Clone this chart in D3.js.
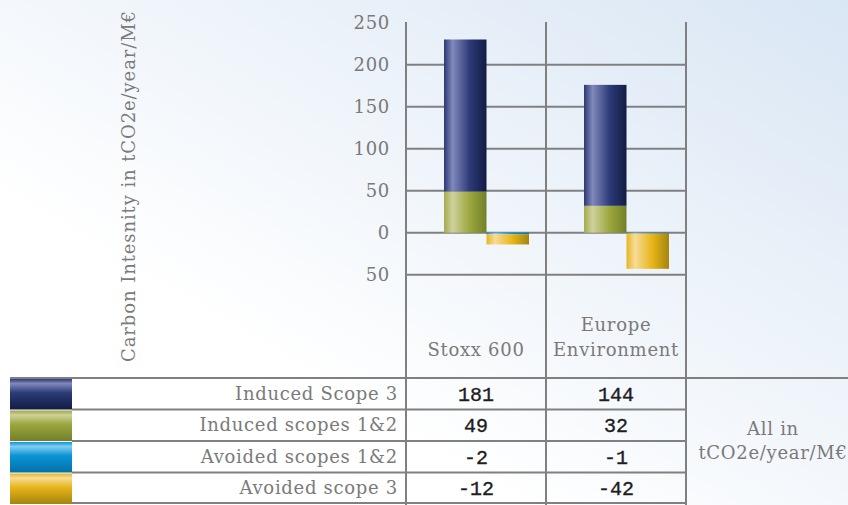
<!DOCTYPE html>
<html>
<head>
<meta charset="utf-8">
<script src="https://cdn.jsdelivr.net/npm/d3@7"></script>
<style>
  body { margin: 0; background: #fff; }
  #chart { display: block; }
  .lbl { font-family: "DejaVu Serif", serif; fill: #7a7a7a; letter-spacing: 0.7px; }
  .num { font-family: "Liberation Mono", monospace; fill: #1e1e1e; stroke: #1e1e1e; stroke-width: 0.35px; }
  .grid line { stroke: #808080; stroke-width: 2; }
</style>
</head>
<body>
<svg id="chart" width="848" height="505"></svg>
<script>
// data
const categories = ["Stoxx 600", "Europe Environment"];
const categoryLines = [["Stoxx 600"], ["Europe", "Environment"]];
const seriesNames = ["Induced Scope 3", "Induced scopes 1&2", "Avoided scopes 1&2", "Avoided scope 3"];
const inducedScope3 = [181, 144];
const inducedScopes12 = [49, 32];
const avoidedScopes12 = [-2, -1];
const avoidedScope3 = [-12, -42];
const tickValues = [-50, 0, 50, 100, 150, 200, 250];
const tickLabels = ["50", "0", "50", "100", "150", "200", "250"];
const yTitle = "Carbon Intesnity in tCO2e/year/M€";
const unitNote = ["All in", "tCO2e/year/M€"];

const W = 848, H = 505;
const svg = d3.select("#chart");
const defs = svg.append("defs");

// background
const bg = defs.append("linearGradient").attr("id", "bg")
  .attr("x1", "0").attr("y1", "1").attr("x2", "1").attr("y2", "0");
bg.append("stop").attr("offset", "0.3").attr("stop-color", "#ffffff");
bg.append("stop").attr("offset", "1").attr("stop-color", "#d9e6f4");
svg.append("rect").attr("width", W).attr("height", H).attr("fill", "url(#bg)");

// bar shading, per series: [left, highlight, mid, right]
const shades = {
  "Induced Scope 3": ["#2b3874", "#8189bb", "#2d3b78", "#121c44"],
  "Induced scopes 1&2": ["#a3ac4c", "#cfd19c", "#9ca73e", "#72802a"],
  "Avoided scopes 1&2": ["#0a8fd0", "#82ccf0", "#0a94d6", "#0670a8"],
  "Avoided scope 3": ["#e6b521", "#f6dc98", "#e9b51a", "#a3850e"]
};
seriesNames.forEach((s, i) => {
  const c = shades[s];
  const g = defs.append("linearGradient").attr("id", "h" + i)
    .attr("x1", 0).attr("x2", 1).attr("y1", 0).attr("y2", 0);
  [[0, c[0]], [0.2, c[1]], [0.6, c[2]], [1, c[3]]].forEach(([o, col]) =>
    g.append("stop").attr("offset", o).attr("stop-color", col));
  const v = defs.append("linearGradient").attr("id", "v" + i)
    .attr("x1", 0).attr("x2", 0).attr("y1", 0).attr("y2", 1);
  [[0, c[2]], [0.15, c[1]], [0.45, c[2]], [1, c[3]]].forEach(([o, col]) =>
    v.append("stop").attr("offset", o).attr("stop-color", col));
});

// scales
const plotLeft = 406, plotRight = 686, plotTop = 22, labelBottom = 378;
const x = d3.scaleBand().domain(categories).range([plotLeft, plotRight]).padding(0);
const inner = d3.scaleBand().domain(["induced", "avoided"])
  .range([38, 123]).padding(0);
const y = d3.scaleLinear().domain([-50, 250]).range([274.7, 22.7]);

// grid
const grid = svg.append("g").attr("class", "grid");
grid.selectAll("line.h").data(tickValues.filter(d => d < 250)).join("line")
  .attr("x1", plotLeft).attr("x2", plotRight)
  .attr("y1", d => y(d)).attr("y2", d => y(d));
const vLines = [plotLeft, ...categories.map(c => x(c) + x.bandwidth())];
grid.selectAll("line.v").data(vLines).join("line")
  .attr("x1", d => d).attr("x2", d => d)
  .attr("y1", plotTop).attr("y2", H);

// y tick labels
const yAxis = d3.axisLeft(y).tickValues(tickValues).tickSize(0).tickPadding(0)
  .tickFormat((d, i) => tickLabels[i]);
const ya = svg.append("g").attr("transform", "translate(390,0)").call(yAxis);
ya.select(".domain").remove();
ya.selectAll("text").attr("class", "lbl").attr("font-size", 18).attr("fill", null)
  .attr("font-family", null);

// y title
svg.append("text").attr("class", "lbl")
  .attr("transform", "translate(135,186) rotate(-90)")
  .attr("text-anchor", "middle").attr("font-size", 18)
  .style("letter-spacing", "0.9px")
  .text(yTitle);

// bars
const stacks = [
  { key: "induced", parts: [[1, inducedScopes12], [0, inducedScope3]] },
  { key: "avoided", parts: [[2, avoidedScopes12], [3, avoidedScope3]] }
];
const bars = [];
categories.forEach((c, ci) => {
  stacks.forEach(st => {
    let base = 0;
    st.parts.forEach(([si, vals]) => {
      const v = vals[ci];
      bars.push({ c, key: st.key, si, y0: base, y1: base + v });
      base += v;
    });
  });
});
svg.append("g").selectAll("rect").data(bars).join("rect")
  .attr("x", d => x(d.c) + inner(d.key))
  .attr("width", inner.bandwidth())
  .attr("y", d => y(Math.max(d.y0, d.y1)))
  .attr("height", d => Math.abs(y(d.y0) - y(d.y1)))
  .attr("fill", d => `url(#h${d.si})`);

// category labels
categories.forEach((c, ci) => {
  const lines = categoryLines[ci];
  const t = svg.append("text").attr("class", "lbl")
    .attr("text-anchor", "middle").attr("font-size", 18)
    .attr("x", x(c) + x.bandwidth() / 2);
  lines.forEach((ln, li) => {
    t.append("tspan").attr("x", x(c) + x.bandwidth() / 2)
      .attr("y", 356 - (lines.length - 1 - li) * 25).text(ln);
  });
});

// table
const rowY = d3.scaleBand().domain(seriesNames).range([labelBottom, 504]).padding(0);
const tbl = svg.append("g").attr("class", "grid");
tbl.append("line").attr("x1", 10).attr("x2", W).attr("y1", labelBottom).attr("y2", labelBottom);
tbl.selectAll("line.r").data(seriesNames.slice(1)).join("line")
  .attr("x1", 72).attr("x2", plotRight)
  .attr("y1", d => rowY(d)).attr("y2", d => rowY(d));
tbl.append("line").attr("x1", 10).attr("x2", plotRight).attr("y1", 503).attr("y2", 503);

svg.append("g").selectAll("rect").data(seriesNames).join("rect")
  .attr("x", 10).attr("width", 62)
  .attr("y", d => rowY(d) + 1).attr("height", rowY.bandwidth() - 1)
  .attr("fill", (d, i) => `url(#v${i})`);

svg.append("g").selectAll("text").data(seriesNames).join("text")
  .attr("class", "lbl").attr("font-size", 18).attr("text-anchor", "end")
  .attr("x", 398).attr("y", d => rowY(d) + rowY.bandwidth() / 2 + 6)
  .text(d => d);

const tableVals = [inducedScope3, inducedScopes12, avoidedScopes12, avoidedScope3];
const cells = [];
seriesNames.forEach((s, si) => categories.forEach((c, ci) =>
  cells.push({ s, c, v: tableVals[si][ci] })));
svg.append("g").selectAll("text").data(cells).join("text")
  .attr("class", "num").attr("font-size", 20).attr("text-anchor", "middle")
  .attr("x", d => x(d.c) + x.bandwidth() / 2)
  .attr("y", d => rowY(d.s) + rowY.bandwidth() / 2 + 7)
  .text(d => d.v);

svg.append("g").selectAll("text").data(unitNote).join("text")
  .attr("class", "lbl").attr("font-size", 18).attr("text-anchor", "middle")
  .attr("x", 773).attr("y", (d, i) => 435 + i * 24)
  .text(d => d);
</script>
</body>
</html>
